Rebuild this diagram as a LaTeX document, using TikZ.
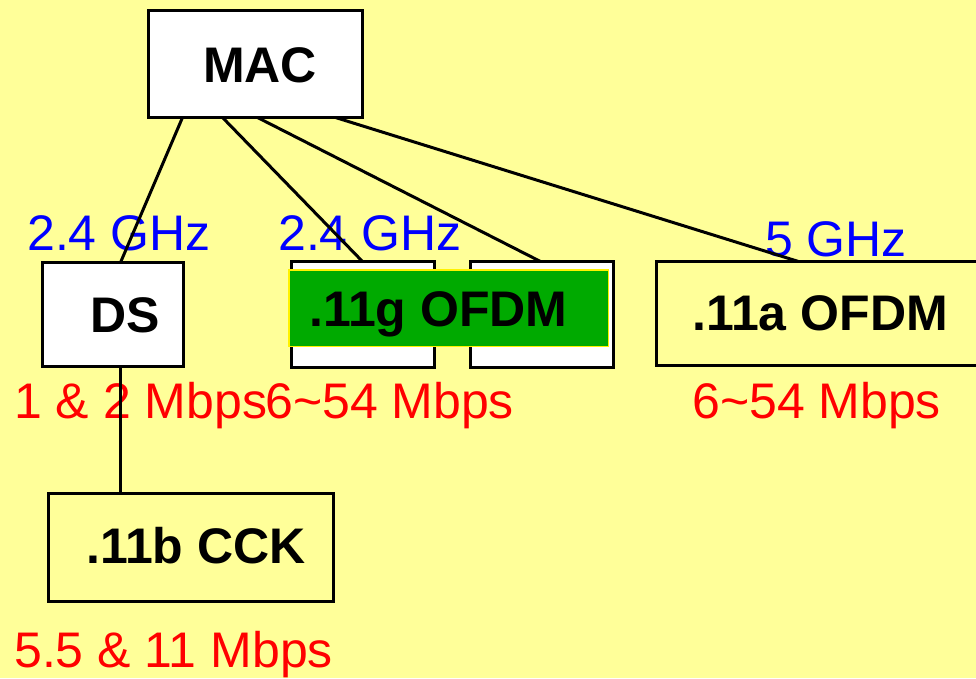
\documentclass[tikz,border=0pt]{standalone}
\usepackage{fontspec}
\setmainfont{Liberation Sans}
\definecolor{bgyellow}{RGB}{255,255,153}
\definecolor{ofdmgreen}{RGB}{0,170,0}
\definecolor{lblblue}{RGB}{0,0,255}
\definecolor{lblred}{RGB}{255,0,0}
\begin{document}
\begin{tikzpicture}[x=1pt,y=-1pt,
  box/.style={draw=black,line width=3pt,rectangle,inner sep=0pt,outer sep=0pt,anchor=north west},
  wbox/.style={box,fill=white},
  greenbox/.style={rectangle,fill=ofdmgreen,draw=yellow,line width=1.5pt,inner sep=0pt,outer sep=0pt,anchor=north west},
  boxlbl/.style={font=\fontsize{50}{60}\selectfont\bfseries,anchor=base west,inner sep=0pt,text=black},
  ghz/.style={font=\fontsize{50}{60}\selectfont,anchor=base west,inner sep=0pt,text=lblblue},
  rate/.style={font=\fontsize{50}{60}\selectfont,anchor=base west,inner sep=0pt,text=lblred},
  link/.style={line width=3pt,line cap=butt}]
\fill[bgyellow] (0,0) rectangle (976,678);
\useasboundingbox (0,0) rectangle (976,678);
% boxes
\node[wbox,minimum width=214pt,minimum height=107pt] (mac) at (148.5,10.5) {};
\node[wbox,minimum width=141pt,minimum height=104pt] (ds) at (42.5,262.5) {};
\node[wbox,minimum width=143pt,minimum height=106pt] (g1) at (291.5,261.5) {};
\node[wbox,minimum width=143pt,minimum height=106pt] (g2) at (470.5,261.5) {};
\node[greenbox,minimum width=319.5pt,minimum height=76.5pt] (g) at (288.75,269.75) {};
\node[box,minimum width=330pt,minimum height=104pt] (a) at (656.5,261.5) {};
\node[box,minimum width=285pt,minimum height=108pt] (b) at (48.5,493.5) {};
% box labels
\node[boxlbl] (macl) at (203,82) {MAC};
\node[boxlbl] (dsl) at (90,332) {DS};
\node[boxlbl] (gl) at (309,326) {.11g OFDM};
\node[boxlbl] (al) at (692,330) {.11a OFDM};
\node[boxlbl] (bl) at (86,563) {.11b CCK};
% band labels
\node[ghz] (f1) at (27,250) {2.4 GHz};
\node[ghz] (f2) at (278,250) {2.4 GHz};
\node[ghz] (f3) at (765,256) {5 GHz};
% rate labels
\node[rate] (r1) at (14,418) {1 \& 2 Mbps};
\node[rate] (r2) at (265,418) {6\textasciitilde54 Mbps};
\node[rate] (r3) at (692,418) {6\textasciitilde54 Mbps};
\node[rate] (r4) at (14,667) {5.5 \& 11 Mbps};
% connectors
\draw[link] ([xshift=34pt]mac.south west) -- ([xshift=78pt]ds.north west);
\draw[link] ([xshift=74pt]mac.south west) -- ([xshift=71pt]g1.north west);
\draw[link] ([xshift=109pt]mac.south west) -- ([xshift=70pt]g2.north west);
\draw[link] ([xshift=187pt]mac.south west) -- ([xshift=142pt]a.north west);
\draw[link] ([xshift=78pt]ds.south west) -- ([xshift=72pt]b.north west);
\end{tikzpicture}
\end{document}
